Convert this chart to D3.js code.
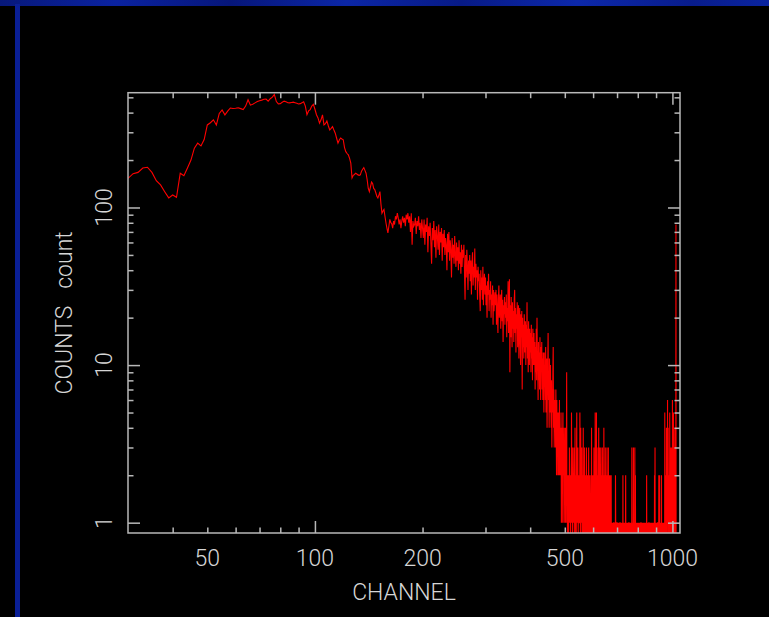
<!DOCTYPE html>
<html>
<head>
<meta charset="utf-8">
<script src="https://cdn.jsdelivr.net/npm/d3@7"></script>
<style>
  body { margin: 0; background: #000; }
  svg { display: block; }
  .lbl { font-family: Roboto, "Liberation Sans", sans-serif; font-weight: 300; fill: #d6d6d6; }
</style>
</head>
<body>
<script>
// channel counts (0 = empty channel)
var seg1Start = 30;
var seg1 = [
  153, 164, 167, 178, 180, 167, 148, 139, 126, 115,
  120, 116, 165, 159, 178, 200, 238, 256, 246, 270,
  334, 345, 360, 334, 395, 416, 387, 409, 428, 425,
  426, 429, 424, 418, 440, 483, 446, 452, 461, 470,
  476, 480, 486, 488, 473, 490, 501, 521, 470, 454,
  456, 465, 473, 468, 462, 461, 464, 466, 462, 458,
  454, 456, 462, 468, 440, 388, 410, 418, 440, 451,
  420, 388, 370, 343, 360, 387, 334, 340, 354, 330,
  311, 318, 326, 310, 296, 275, 256, 268, 276, 272,
  269, 240, 226, 220, 216, 205, 191, 154, 160, 162,
  165, 163, 161, 160, 161, 170, 175, 179, 172, 165,
  150, 132, 126, 135, 145, 142, 132, 130, 124, 118,
  115, 120, 126, 105, 92, 95, 97, 88, 80, 74
];

var seg2Start = 160;
var seg2 = [
  69, 76, 84, 80, 79, 74, 82, 78, 88, 84,
  92, 86, 78, 84, 74, 82, 88, 80, 86, 76,
  90, 84, 92, 80, 88, 70, 92, 58, 82, 76,
  78, 86, 68, 82, 76, 88, 72, 80, 64, 84,
  74, 64, 84, 58, 78, 70, 86, 52, 76, 66,
  80, 60, 44, 74, 62, 82, 56, 72, 48, 76,
  66, 54, 78, 50, 70, 60, 74, 46, 68, 56,
  72, 50, 64, 58, 40, 68, 52, 70, 46, 62,
  54, 36, 64, 48, 58, 44, 66, 50, 42, 60,
  46, 56, 40, 62, 44, 52, 38, 58, 42, 54,
  48, 58, 40, 26, 50, 36, 54, 42, 30, 46,
  38, 50, 34, 46, 28, 44, 52, 32, 42, 36,
  55, 30, 44, 36, 40, 26, 42, 34, 38, 28,
  22, 40, 30, 36, 26, 42, 24, 34, 38, 28,
  36, 24, 32, 20, 34, 28, 38, 22, 30, 26,
  34, 20, 28, 24, 32, 18, 30, 22, 26, 29,
  24, 30, 18, 28, 22, 16, 26, 32, 20, 24,
  28, 17, 24, 30, 19, 26, 14, 24, 21, 27,
  18, 25, 20, 28, 15, 23, 19, 34, 16, 22
];

var seg3Start = 350;
var seg3 = [
  35, 9, 24, 15, 27, 18, 13, 25, 17, 22,
  14, 26, 30, 16, 23, 12, 21, 17, 25, 13,
  20, 24, 11, 19, 23, 14, 10, 21, 15, 22,
  7, 20, 13, 18, 11, 21, 15, 12, 19, 10,
  18, 13, 25, 11, 17, 9, 19, 13, 10, 17,
  12, 16, 9, 18, 11, 15, 8, 17, 12, 10,
  16, 10, 14, 7, 13, 9, 17, 8, 20, 11,
  10, 6, 14, 8, 12, 7, 15, 10, 6, 13,
  9, 14, 7, 11, 6, 12, 9, 5, 12, 8,
  10, 6, 13, 5, 9, 11, 4, 8, 10, 16,
  6, 9, 4, 11, 7, 5, 10, 6, 4, 8,
  3, 7, 5, 9, 13, 4, 7, 3, 6, 5,
  6, 3, 7, 4, 2, 6, 3, 5, 2, 4,
  5, 2, 4, 6, 2, 3, 4, 2, 5, 1,
  3, 4, 1, 3, 5, 2, 3, 1, 4, 2,
  3, 1, 4, 1, 3, 2, 9, 1, 2, 0
];

var seg4Start = 510;
var seg4 = [
  1,2,0,2,1,3,2,1,2,0, 2,1,5,2,1,3,0,2,1,2,
  3,1,2,0,4,1,2,1,0,2, 5,1,2,1,3,0,2,1,2,1,
  1,5,2,0,4,1,2,1,3,0, 2,1,0,4,1,2,0,1,3,1,
  0,2,1,1,0,3,1,2,0,1, 2,0,1,3,1,0,2,1,0,1,
  1,2,0,1,4,1,0,2,1,0, 2,1,0,3,1,2,0,1,5,1,
  0,2,1,5,0,1,2,0,1,3, 1,0,4,1,2,0,3,1,0,2,
  1,3,0,1,2,0,1,3,0,1, 2,0,1,4,1,0,2,1,0,3,
  1,0,2,1,0,1,3,0,1,2, 0,1,3,0,1,2,0,1,0,2,
  1,0,1,0,2,0,1,0,1,0, 0,1,0,1,0,1,1,0,0,1,
  0,1,0,2,1,0,0,1,0,1, 1,0,0,1,0,1,0,0,1,0,
  0,1,0,1,1,0,0,1,0,0, 1,0,1,0,0,1,0,2,0,1,
  0,1,0,0,1,0,1,0,0,1, 2,0,1,0,0,1,0,1,0,0,
  1,0,0,1,0,1,1,0,0,1, 0,1,0,0,1,0,1,0,1,0,
  3,0,1,0,1,0,0,1,3,0, 1,0,0,1,0,3,1,0,2,0,
  0,1,0,1,0,0,1,0,1,0, 1,0,0,1,0,1,0,0,1,0,
  0,1,0,0,1,0,1,1,0,0, 1,0,1,0,0,1,0,0,1,0,
  0,0,1,0,1,0,0,1,0,1, 0,1,0,0,1,0,0,2,0,1,
  0,1,0,1,0,0,1,0,0,1, 1,0,0,1,0,1,0,0,1,0,
  0,1,0,1,0,0,1,0,1,0, 1,0,0,1,0,1,0,0,1,0,
  0,2,0,1,3,0,1,0,0,1, 0,1,0,0,1,0,1,0,0,1,
  1,0,0,1,0,0,2,0,1,0, 0,2,0,1,0,1,0,0,1,0,
  1,0,2,0,1,0,0,1,0,1, 0,1,0,1,0,1,0,0,1,0,
  1,0,5,1,0,1,2,0,1,0, 2,1,4,1,0,2,1,3,1,6,
  1,2,0,4,1,2,1,0,2,1, 1,0,2,5,1,0,2,1,3,1,
  2,1,0,2,1,3,1,2,0,1, 6,1,2,0,3,1,2,5,1,0,
  2,1,3,0,1,2,4,1,2,0, 1,2,3,78,0
];

var xLabels = [50, 100, 200, 500, 1000];
var xMajor = [100, 1000];
var xMinor = [40, 50, 60, 70, 80, 90, 200, 300, 400, 500, 600, 700, 800, 900];
var yLabels = [1, 10, 100];
var yMinor = [2, 3, 4, 5, 6, 7, 8, 9, 20, 30, 40, 50, 60, 70, 80, 90, 200, 300, 400, 500];

var xTitle = 'CHANNEL';
var yTitle = 'COUNTS\u00a0\u00a0\u00a0count';

/* ===== build data ===== */

var data = [];
[[seg1Start, seg1], [seg2Start, seg2], [seg3Start, seg3], [seg4Start, seg4]].forEach(function(s) {
  s[1].forEach(function(v, i) {
    data.push({ ch: s[0] + i, n: v });
  });
});

var w = 769;
var h = 617;
var plotL = 128, plotR = 680, plotT = 92.7, plotB = 533;
var axisColor = '#b8b8b8';

var svg = d3.select('body')
  .append('svg')
  .attr('width', w)
  .attr('height', h);

svg.append('rect').attr('width', w).attr('height', h).attr('fill', '#000');

var defs = svg.append('defs');

/* ===== slide decoration ===== */

var grad = defs.append('linearGradient')
  .attr('id', 'band');
[['0%', '#07187a'], ['15%', '#0a22a0'], ['30%', '#06167a'], ['45%', '#0b26a6'],
 ['60%', '#071a86'], ['75%', '#0c28aa'], ['90%', '#081c8c'], ['100%', '#0a24a0']]
  .forEach(function(s) {
    grad.append('stop').attr('offset', s[0]).attr('stop-color', s[1]);
  });

svg.append('rect').attr('x', 0).attr('y', 0).attr('width', w).attr('height', 6)
  .attr('fill', 'url(#band)');
svg.append('rect').attr('x', 15).attr('y', 4).attr('width', 5).attr('height', h - 4)
  .attr('fill', '#0a1f96');

/* ===== scales ===== */

var xScale = d3.scaleLog().domain([30, 1050]).range([plotL, plotR]);
var yScale = d3.scaleLog().domain([0.86, 535]).range([plotB, plotT]);

defs.append('clipPath').attr('id', 'plotClip')
  .append('rect')
  .attr('x', plotL).attr('y', plotT)
  .attr('width', plotR - plotL).attr('height', plotB - plotT);

/* ===== spectrum ===== */

var line = d3.line()
  .x(function(d) { return xScale(d.ch); })
  .y(function(d) { return yScale(Math.max(d.n, 0.5)); });

svg.append('path')
  .datum(data)
  .attr('clip-path', 'url(#plotClip)')
  .attr('fill', 'none')
  .attr('stroke', '#ff0000')
  .attr('stroke-width', 1.1)
  .attr('d', line);

/* ===== axes (ticks inward on all four sides) ===== */

function tickAxis(axisFn, scale, values, size, transform) {
  var g = svg.append('g')
    .attr('transform', transform)
    .call(axisFn(scale).tickValues(values).tickSizeInner(-size).tickSizeOuter(0).tickFormat(''));
  g.select('.domain').remove();
  g.selectAll('line').attr('stroke', axisColor).attr('stroke-width', 1.5);
}

tickAxis(d3.axisBottom, xScale, xMajor, 12, 'translate(0,' + plotB + ')');
tickAxis(d3.axisBottom, xScale, xMinor, 5.5, 'translate(0,' + plotB + ')');
tickAxis(d3.axisTop, xScale, xMajor, 12, 'translate(0,' + plotT + ')');
tickAxis(d3.axisTop, xScale, xMinor, 5.5, 'translate(0,' + plotT + ')');
tickAxis(d3.axisLeft, yScale, yLabels, 12, 'translate(' + plotL + ',0)');
tickAxis(d3.axisLeft, yScale, yMinor, 5.5, 'translate(' + plotL + ',0)');
tickAxis(d3.axisRight, yScale, yLabels, 12, 'translate(' + plotR + ',0)');
tickAxis(d3.axisRight, yScale, yMinor, 5.5, 'translate(' + plotR + ',0)');

svg.append('rect')
  .attr('x', plotL).attr('y', plotT)
  .attr('width', plotR - plotL).attr('height', plotB - plotT)
  .attr('fill', 'none')
  .attr('stroke', axisColor)
  .attr('stroke-width', 1.5);

/* ===== labels ===== */

svg.selectAll('.xl').data(xLabels).enter()
  .append('text')
  .attr('class', 'lbl')
  .attr('x', function(d) { return xScale(d); })
  .attr('y', 566)
  .attr('text-anchor', 'middle')
  .style('font-size', '23px')
  .text(function(d) { return d; });

svg.selectAll('.yl').data(yLabels).enter()
  .append('text')
  .attr('class', 'lbl')
  .attr('transform', function(d) { return 'translate(112,' + yScale(d) + ') rotate(-90)'; })
  .attr('text-anchor', 'middle')
  .style('font-size', '23px')
  .text(function(d) { return d; });

svg.append('text')
  .attr('class', 'lbl')
  .attr('x', (plotL + plotR) / 2)
  .attr('y', 600)
  .attr('text-anchor', 'middle')
  .style('font-size', '23px')
  .text(xTitle);

svg.append('text')
  .attr('class', 'lbl')
  .attr('transform', 'translate(71.5,' + ((plotT + plotB) / 2) + ') rotate(-90)')
  .attr('text-anchor', 'middle')
  .style('font-size', '23px')
  .text(yTitle);
</script>
</body>
</html>
